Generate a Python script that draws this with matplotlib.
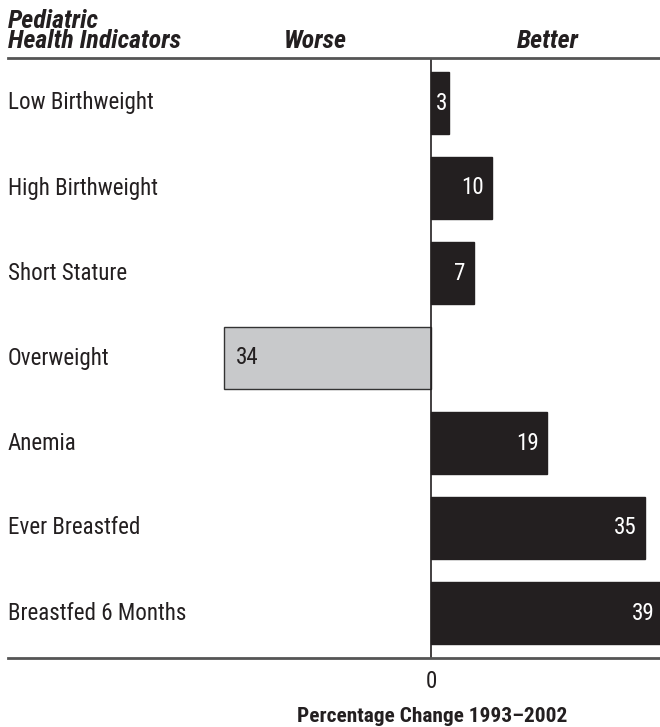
import os
import matplotlib
matplotlib.use("Agg")
import matplotlib.pyplot as plt
from matplotlib import font_manager as fm
from matplotlib.font_manager import FontProperties
from matplotlib.transforms import blended_transform_factory as blend

categories = ["Low Birthweight", "High Birthweight", "Short Stature", "Overweight",
              "Anemia", "Ever Breastfed", "Breastfed 6 Months"]
values = [3, 10, 7, -34, 19, 35, 39]
labels = ["3", "10", "7", "34", "19", "35", "39"]


def find_font(cands):
    files = {}
    for f in fm.fontManager.ttflist:
        files.setdefault(os.path.basename(f.fname).lower(), f.fname)
    for p in fm.findSystemFonts():
        files.setdefault(os.path.basename(p).lower(), p)
    for c in cands:
        if c.lower() in files:
            return files[c.lower()]
    return None


reg_file = find_font(["LiberationSansNarrow-Regular.ttf", "RobotoCondensed-Regular.ttf",
                      "OpenSans_Condensed-Regular.ttf", "DejaVuSansCondensed.ttf"])
bold_file = find_font(["LiberationSansNarrow-Bold.ttf", "RobotoCondensed-Bold.ttf",
                       "OpenSans_Condensed-Bold.ttf", "DejaVuSansCondensed-Bold.ttf"])
bi_file = find_font(["LiberationSansNarrow-BoldItalic.ttf", "RobotoCondensed-BoldItalic.ttf",
                     "OpenSans_Condensed-BoldItalic.ttf", "DejaVuSansCondensed-BoldOblique.ttf"])


def fp(path, size, weight="normal", style="normal"):
    if path:
        return FontProperties(fname=path, size=size)
    return FontProperties(family="DejaVu Sans", size=size, weight=weight, style=style)


W, H = 660, 727
fig = plt.figure(figsize=(W / 100, H / 100), dpi=100)
renderer = fig.canvas.get_renderer()


def fit_size(path, text, target_px, weight="normal", style="normal"):
    t = fig.text(0, 0, text, fontproperties=fp(path, 20, weight, style))
    w = t.get_window_extent(renderer).width
    t.remove()
    return 20 * target_px / w


s_reg = fit_size(reg_file, "Breastfed 6 Months", 178)
s_bi = fit_size(bi_file, "Health Indicators", 172, "bold", "italic")
s_bold = fit_size(bold_file, "Percentage Change 1993\u20132002", 270, "bold")
F_REG = fp(reg_file, s_reg)
F_BI = fp(bi_file, s_bi, "bold", "italic")
F_BOLD = fp(bold_file, s_bold, "bold")

top_px, bot_px = 58, 658
ax = fig.add_axes([0, 1 - bot_px / H, 1, (bot_px - top_px) / H])
ax.set_axis_off()

ppu = 6.1
zero_px = 431
xmax = (W - zero_px) / ppu
ax.set_xlim(-zero_px / ppu, xmax)
row0, step = 103, 85
ax.set_ylim((bot_px - row0) / step, (top_px - row0) / step)

ypos = list(range(len(categories)))
DARK = "#231f20"
colors = [DARK if v > 0 else "#c8c9cb" for v in values]
ax.barh(ypos, values, height=0.73, color=colors,
        edgecolor=[DARK if v > 0 else "#333333" for v in values],
        linewidth=1.0, zorder=2)

ax.axvline(0, color=DARK, lw=1.2, zorder=3)
tx = blend(ax.transAxes, ax.transData)
for y, cat, v, lab in zip(ypos, categories, values, labels):
    ax.text(8 / W, y, cat, transform=tx, ha="left", va="center", fontproperties=F_REG, color=DARK)
    if v > 0:
        xe = min(v, xmax)
        if v * ppu < 30:
            ax.text(v / 2 + 0.3, y, lab, ha="center", va="center", fontproperties=F_REG,
                    color="white", zorder=4)
        else:
            pad = 5 / ppu if v > xmax else 8 / ppu
            ax.text(xe - pad, y, lab, ha="right", va="center", fontproperties=F_REG,
                    color="white", zorder=4)
    else:
        ax.text(v + 12 / ppu, y, lab, ha="left", va="center", fontproperties=F_REG,
                color=DARK, zorder=4)

# top and bottom rules
for ypx in (top_px, bot_px):
    fig.add_artist(plt.Line2D([8 / W, 1], [1 - ypx / H] * 2, color="#555555", lw=2.0,
                              transform=fig.transFigure))

# header: two-line title as a single text, first baseline at 28 px, second at 48 px
t1 = fig.text(8 / W, 1 - 28 / H, "Pediatric", ha="left", va="baseline", fontproperties=F_BI)
top_fig = t1.get_window_extent(renderer).y1 / H
t1.remove()
probe1 = fig.text(0, 0.5, "Pediatric", fontproperties=F_BI, linespacing=1.0)
probe2 = fig.text(0, 0.5, "Pediatric\nHealth Indicators", fontproperties=F_BI, linespacing=1.0)
step_px = probe2.get_window_extent(renderer).height - probe1.get_window_extent(renderer).height
probe1.remove()
probe2.remove()
ls = 19.5 / step_px
fig.text(8 / W, top_fig, "Pediatric\nHealth Indicators", ha="left", va="top",
         fontproperties=F_BI, color=DARK, linespacing=ls)
fig.text(315 / W, 1 - 47.5 / H, "Worse", ha="center", va="baseline", fontproperties=F_BI, color=DARK)
fig.text(548 / W, 1 - 47.5 / H, "Better", ha="center", va="baseline", fontproperties=F_BI, color=DARK)

fig.text(zero_px / W, 1 - 681 / H, "0", ha="center", va="center", fontproperties=F_REG, color=DARK)
fig.text(432 / W, 1 - 722 / H, "Percentage Change 1993\u20132002", ha="center", va="baseline",
         fontproperties=F_BOLD, color=DARK)

fig.savefig("out.png", dpi=100)
